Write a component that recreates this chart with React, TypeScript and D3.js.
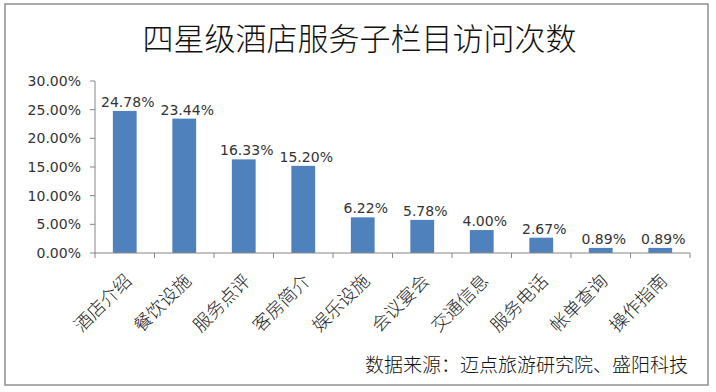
import React from 'react';
import { scaleBand, scaleLinear, format } from 'd3';

const categories = ['酒店介绍', '餐饮设施', '服务点评', '客房简介', '娱乐设施', '会议宴会', '交通信息', '服务电话', '帐单查询', '操作指南'];
const values = [24.78, 23.44, 16.33, 15.2, 6.22, 5.78, 4.0, 2.67, 0.89, 0.89];
const yTicks = [0, 5, 10, 15, 20, 25, 30];
const title = '四星级酒店服务子栏目访问次数';
const source = '数据来源：迈点旅游研究院、盛阳科技';

const W = 716;
const H = 392;
const left = 95;
const right = 690;
const top = 81;
const bottom = 253;

const cjk = "'Noto Sans CJK SC', sans-serif";
const num = "'DejaVu Sans', sans-serif";
const pct = (v: number) => format('.2f')(v) + '%';

const App = () => {
  const x = scaleBand<string>().domain(categories).range([left, right]).paddingInner(0.6).paddingOuter(0.3);
  const y = scaleLinear().domain([0, 30]).range([bottom, top]);
  const step = x.step();
  const bounds = categories.map((c) => (x(c) as number) - step * x.paddingOuter()).concat([right]);

  return (
    <svg width={W} height={H} style={{ position: 'absolute', left: 0, top: 0, background: '#fff' }}>
      <rect x={5} y={4} width={703} height={381} fill='#fff' stroke='#8f8f8f' strokeWidth={1.5} />
      <text x={359.5} y={50} textAnchor='middle' fontFamily={cjk} fontSize={31} fontWeight={300} fill='#111'>
        {title}
      </text>

      {/* y axis */}
      <line x1={left} x2={left} y1={y(30)} y2={y(0)} stroke='#868686' />
      {yTicks.map((t) => (
        <g key={t}>
          <line x1={left - 5} x2={left} y1={y(t)} y2={y(t)} stroke='#868686' />
          <text x={81} y={y(t)} dy='0.36em' textAnchor='end' fontFamily={num} fontSize={14} fill='#333'>
            {pct(t)}
          </text>
        </g>
      ))}

      {/* bars */}
      {categories.map((c, i) => (
        <g key={c}>
          <rect x={x(c)} y={y(values[i])} width={x.bandwidth()} height={y(0) - y(values[i])} fill='#4F81BD' />
          <text
            x={(x(c) as number) + x.bandwidth() / 2 + 3}
            y={y(values[i]) - 4}
            textAnchor='middle'
            fontFamily={num}
            fontSize={14}
            fill='#333'
          >
            {pct(values[i])}
          </text>
        </g>
      ))}

      {/* x axis */}
      <line x1={left} x2={right} y1={bottom} y2={bottom} stroke='#868686' />
      {bounds.map((b, i) => (
        <line key={i} x1={b} x2={b} y1={bottom} y2={bottom + 5} stroke='#868686' />
      ))}
      {categories.map((c) => {
        const cx = (x(c) as number) + x.bandwidth() / 2 + 8;
        const cy = bottom + 29;
        return (
          <text
            key={c}
            x={cx}
            y={cy}
            transform={`rotate(-45 ${cx} ${cy})`}
            textAnchor='end'
            fontFamily={cjk}
            fontSize={18}
            fontWeight={300}
            fill='#222'
          >
            {c}
          </text>
        );
      })}

      <text x={688} y={372} textAnchor='end' fontFamily={cjk} fontSize={19} fontWeight={300} fill='#111'>
        {source}
      </text>
    </svg>
  );
};

export default App;
